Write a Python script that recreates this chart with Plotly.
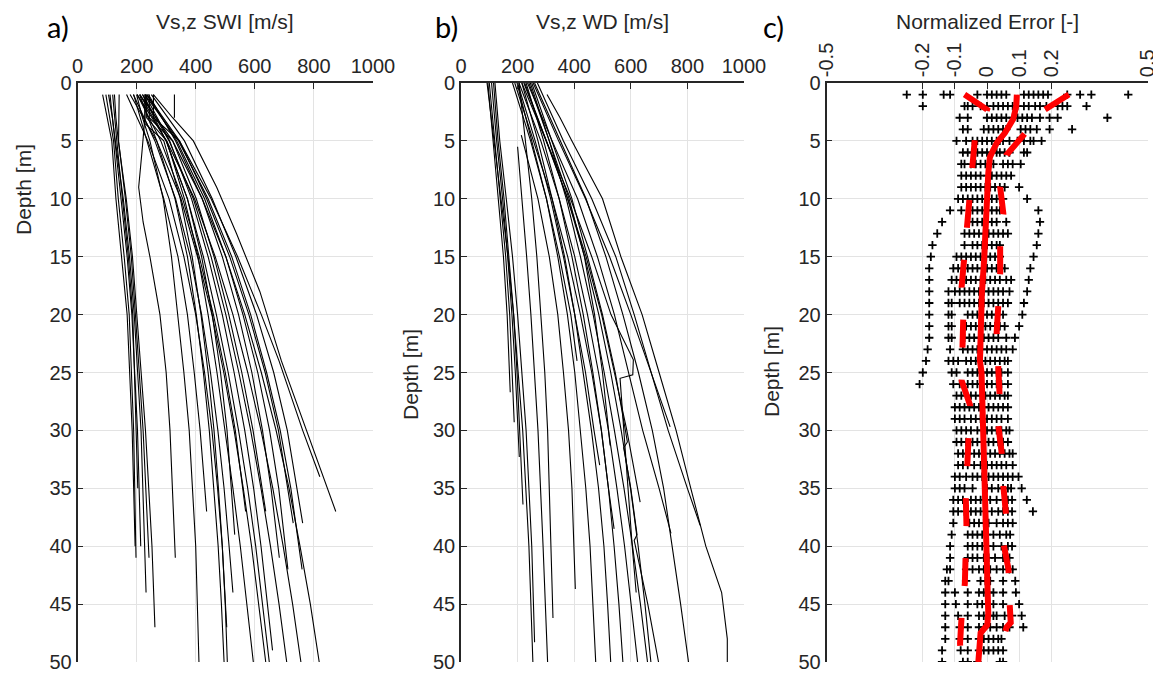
import plotly.graph_objects as go

W, H = 1161, 674
OFF = 8  # browser default body margin
FW, FH = W - OFF, H - OFF

# ---------------- Panel a: Vs,z SWI profiles (depth [m], velocity [m/s]) ----------------
swi_profiles = [
    ([1, 3, 5, 10, 15, 20, 30, 40], [85, 100, 116, 130, 150, 168, 185, 195]),
    ([1, 3, 5, 10, 15, 20, 30, 41], [96, 108, 122, 138, 158, 175, 190, 198]),
    ([1, 3, 5, 10, 15, 20, 30, 40], [110, 118, 128, 148, 168, 184, 203, 214]),
    ([1, 3, 5, 10, 15, 20, 30, 35], [119, 125, 133, 152, 172, 187, 200, 204]),
    ([1, 3, 5, 10, 15, 20, 30, 41], [141, 141, 139, 162, 182, 196, 222, 242]),
    ([1, 3, 5, 10, 15, 20, 30, 44], [105, 118, 128, 155, 176, 192, 215, 232]),
    ([1, 3, 5, 10, 15, 20, 30, 40, 47], [125, 130, 138, 165, 186, 200, 230, 252, 262]),
    ([1, 3, 6, 9, 12, 15, 20, 25, 30, 41], [230, 228, 218, 207, 222, 245, 279, 300, 313, 331]),
    ([1, 3, 5, 10, 15, 20, 25, 30, 40, 50], [200, 220, 245, 290, 318, 340, 360, 378, 400, 411]),
    ([1, 3, 5, 10, 15, 20, 25, 30, 37], [190, 212, 235, 292, 340, 372, 395, 415, 437]),
    ([1, 5, 10, 15, 20, 25, 30, 35, 40, 45, 50], [210, 268, 330, 372, 402, 426, 446, 462, 476, 487, 496]),
    ([1, 3.5, 5, 10, 15, 20, 25, 30, 35, 40, 45, 50], [228, 228, 292, 348, 388, 418, 442, 462, 477, 490, 500, 507]),
    ([1, 5, 10, 15, 20, 25, 30, 35, 40, 47], [166, 238, 310, 360, 400, 430, 455, 474, 490, 505]),
    ([1, 5, 10, 15, 20, 25, 30, 35, 40, 44], [189, 262, 332, 382, 420, 450, 475, 496, 513, 526]),
    ([1, 5, 10, 15, 20, 25, 30, 35, 39], [220, 300, 372, 420, 456, 484, 506, 521, 532]),
    ([1, 5, 10, 15, 20, 25, 30, 37], [202, 282, 356, 412, 460, 500, 534, 569]),
    ([1, 3, 5, 10, 15, 20, 25, 30, 35, 40, 45, 50], [234, 234, 302, 362, 408, 442, 472, 500, 526, 551, 574, 595]),
    ([1, 3, 5, 10, 15, 20, 25, 30, 37], [243, 243, 322, 402, 462, 512, 556, 594, 637]),
    ([1, 5, 10, 15, 20, 25, 30, 35, 40, 45, 50], [178, 268, 350, 406, 455, 495, 530, 561, 589, 614, 637]),
    ([1, 5, 10, 15, 20, 25, 30, 35, 40, 45, 50], [211, 300, 372, 426, 470, 510, 545, 576, 603, 627, 649]),
    ([1, 5, 10, 15, 20, 25, 30, 35, 40, 49], [228, 312, 386, 442, 490, 530, 566, 596, 621, 660]),
    ([1, 5, 10, 15, 20, 25, 30, 35, 41], [240, 332, 422, 490, 545, 590, 626, 655, 683]),
    ([1, 5, 10, 15, 20, 25, 30, 35, 40, 45, 50], [220, 310, 392, 452, 502, 546, 586, 621, 653, 682, 708]),
    ([1, 5, 10, 15, 20, 25, 30, 35, 42], [234, 336, 430, 502, 560, 610, 650, 681, 712]),
    ([1, 3, 5, 10, 15, 20, 25, 30, 38], [257, 257, 345, 437, 515, 580, 635, 680, 730]),
    ([1, 5, 10, 15, 20, 25, 30, 35, 40, 45, 50], [202, 302, 396, 466, 526, 576, 621, 661, 696, 728, 756]),
    ([1, 5, 10, 15, 20, 25, 30, 35, 42], [228, 342, 442, 522, 586, 640, 686, 722, 760]),
    ([1, 5, 10, 15, 20, 25, 30, 38], [250, 362, 456, 536, 606, 664, 710, 762]),
    ([1, 5, 10, 15, 20, 25, 30, 35, 40, 45, 50], [211, 322, 422, 502, 566, 622, 672, 716, 753, 788, 818]),
    ([1, 5, 10, 15, 20, 24, 30, 34], [235, 345, 452, 542, 622, 682, 762, 820]),
    ([1, 3, 5, 9, 13, 18, 24, 30, 37], [257, 322, 392, 471, 538, 617, 690, 775, 874]),
    ([1, 3], [328, 328]),
]

# ---------------- Panel b: Vs,z WD profiles ----------------
wd_profiles = [
    ([0, 5, 10, 15, 20, 26.7], [95, 114, 133, 150, 163, 174]),
    ([0, 5, 10, 15, 20, 25, 29.3], [100, 120, 140, 158, 172, 182, 188]),
    ([0, 5, 10, 15, 20, 25, 32.3], [108, 126, 147, 165, 180, 192, 206]),
    ([0, 5, 10, 15, 20, 25, 30, 36.4], [115, 131, 152, 170, 186, 198, 208, 219]),
    ([0, 5, 10, 15, 20, 30, 40, 50], [92, 117, 143, 166, 186, 218, 240, 254]),
    ([0, 5, 10, 15, 20, 30, 40, 48.3], [120, 137, 160, 182, 200, 230, 250, 260]),
    ([5.5, 10, 15, 20, 25, 30, 40, 50], [200, 216, 232, 247, 260, 272, 290, 306]),
    ([0, 5, 10, 15, 20, 25, 30, 40, 46.2], [205, 228, 250, 268, 283, 296, 306, 318, 325]),
    ([4.5, 10, 15, 20, 25, 30, 35, 43.7], [213, 272, 312, 342, 362, 380, 392, 404]),
    ([0, 5, 10, 15, 20, 25, 30, 35, 40, 45, 50], [198, 250, 302, 342, 376, 402, 422, 441, 456, 467, 476]),
    ([0, 5, 10, 15, 20, 25, 30, 35, 40, 45, 50], [215, 272, 322, 366, 402, 432, 461, 486, 505, 518, 529]),
    ([0, 5, 10, 15, 20, 25, 30, 35, 40, 45, 50], [230, 292, 347, 392, 432, 466, 496, 521, 541, 558, 572]),
    ([0, 5, 10, 15, 20, 25, 30, 35, 40, 45, 50], [205, 282, 347, 402, 447, 486, 521, 551, 578, 602, 624]),
    ([0, 5, 10, 15, 20, 25, 30, 35, 40, 45, 50], [240, 312, 372, 422, 467, 506, 542, 576, 606, 634, 659]),
    ([0, 5, 10, 15, 20, 25, 30, 35, 40, 45, 50], [222, 302, 377, 437, 487, 529, 566, 599, 626, 650, 671]),
    ([0, 5, 10, 15, 20, 25, 30, 31, 31.5, 35, 39, 39.5, 45, 50],
     [250, 322, 392, 447, 500, 545, 582, 588, 575, 600, 622, 612, 660, 698]),
    ([0, 5, 10, 15, 20, 25, 30, 35, 40, 45, 50], [260, 352, 442, 512, 572, 627, 676, 716, 747, 776, 804]),
    ([1, 3, 5, 10, 15, 20, 25, 30, 35, 40, 44, 48, 50], [304, 350, 392, 500, 565, 640, 700, 760, 812, 865, 921, 941, 941]),
    ([0, 5, 10, 15, 20, 25, 30, 35, 38.2], [270, 362, 462, 547, 612, 672, 732, 800, 845]),
    ([0, 5, 10, 15, 20, 25, 29.7], [255, 345, 440, 525, 600, 672, 739]),
    ([0, 5, 10, 15, 20, 25, 30, 35, 38.9], [235, 322, 412, 482, 542, 592, 642, 700, 742]),
    ([0, 5, 10, 15, 20, 25, 30, 36.2], [225, 302, 377, 442, 497, 542, 586, 633]),
    ([0, 5, 10, 15, 20, 25, 30, 35, 38.5], [190, 256, 322, 377, 422, 462, 496, 521, 541]),
    ([0, 5, 10, 15, 20, 25, 31.3], [245, 312, 382, 436, 472, 500, 527]),
    ([0, 5, 10, 15, 20, 23.9, 25.2, 25.5, 30, 35, 40, 44], [215, 300, 387, 462, 530, 609, 607, 562, 575, 590, 605, 619]),
    ([0, 5, 10, 15, 20, 25, 30, 33], [200, 262, 317, 362, 402, 440, 470, 490]),
    ([0, 5, 10, 15, 20, 24], [182, 246, 302, 348, 388, 410]),
]

# ---------------- Panel c: normalized error per depth ----------------
err_depths = [1, 2, 3, 4, 5, 6, 7, 8, 9, 10, 11, 12, 13, 14, 15, 16, 17, 18, 19, 20, 21, 22, 23, 24, 25,
              26, 27, 28, 29, 30, 31, 32, 33, 34, 35, 36, 37, 38, 39, 40, 41, 42, 43, 44, 45, 46, 47, 48, 49, 50]
err_rows = [
    [-0.25, -0.2, -0.135, -0.115, -0.03, 0.0, 0.015, 0.03, 0.045, 0.06, 0.115, 0.13, 0.145, 0.16, 0.175, 0.19, 0.25, 0.29, 0.325, 0.44],
    [-0.2, -0.07, -0.06, -0.045, -0.02, 0.0, 0.02, 0.035, 0.05, 0.065, 0.08, 0.095, 0.115, 0.13, 0.15, 0.165, 0.185, 0.22, 0.235, 0.25, 0.31],
    [-0.085, -0.06, 0.0, 0.015, 0.03, 0.045, 0.06, 0.08, 0.095, 0.11, 0.125, 0.14, 0.165, 0.195, 0.22, 0.375],
    [-0.075, -0.06, -0.01, 0.005, 0.02, 0.035, 0.05, 0.06, 0.105, 0.12, 0.135, 0.155, 0.195, 0.265],
    [-0.095, -0.065, -0.045, -0.03, -0.015, 0.0, 0.015, 0.03, 0.04, 0.05, 0.07, 0.095, 0.115, 0.135, 0.145, 0.17],
    [-0.075, -0.06, -0.045, -0.03, -0.015, 0.0, 0.015, 0.03, 0.04, 0.055, 0.07, 0.115, 0.125],
    [-0.08, -0.07, -0.05, -0.035, -0.02, -0.005, 0.01, 0.02, 0.05, 0.065, 0.08, 0.105],
    [-0.08, -0.065, -0.05, -0.035, -0.02, 0.0, 0.015, 0.03, 0.045, 0.06, 0.075],
    [-0.08, -0.065, -0.05, -0.035, -0.02, -0.005, 0.01, 0.025, 0.04, 0.055, 0.1],
    [-0.09, -0.075, -0.06, -0.045, -0.03, -0.015, 0.0, 0.015, 0.03, 0.05, 0.125],
    [-0.115, -0.08, -0.045, -0.03, -0.015, 0.0, 0.015, 0.03, 0.04, 0.16],
    [-0.14, -0.045, -0.03, -0.015, 0.0, 0.015, 0.03, 0.06, 0.165],
    [-0.155, -0.07, -0.055, -0.04, -0.025, -0.01, 0.005, 0.02, 0.035, 0.05, 0.065, 0.16],
    [-0.17, -0.07, -0.045, -0.03, -0.015, 0.0, 0.015, 0.03, 0.04, 0.155],
    [-0.175, -0.095, -0.08, -0.065, -0.05, -0.035, -0.02, -0.005, 0.01, 0.025, 0.04, 0.145],
    [-0.18, -0.105, -0.09, -0.075, -0.06, -0.045, -0.03, -0.015, 0.0, 0.015, 0.03, 0.045, 0.055, 0.135],
    [-0.18, -0.11, -0.095, -0.08, -0.065, -0.05, -0.035, -0.02, -0.005, 0.01, 0.025, 0.04, 0.06, 0.075, 0.13],
    [-0.18, -0.12, -0.1, -0.085, -0.07, -0.055, -0.04, -0.025, -0.01, 0.005, 0.02, 0.035, 0.05, 0.07, 0.125],
    [-0.18, -0.12, -0.11, -0.085, -0.07, -0.055, -0.04, -0.025, -0.01, 0.005, 0.02, 0.035, 0.05, 0.065, 0.115],
    [-0.18, -0.12, -0.11, -0.06, -0.045, -0.03, -0.015, 0.0, 0.015, 0.03, 0.05, 0.11],
    [-0.18, -0.12, -0.11, -0.065, -0.05, -0.035, -0.02, -0.005, 0.01, 0.025, 0.04, 0.055, 0.1],
    [-0.18, -0.12, -0.11, -0.07, -0.055, -0.04, -0.025, -0.01, 0.005, 0.02, 0.035, 0.06, 0.087],
    [-0.185, -0.115, -0.075, -0.06, -0.045, -0.03, -0.015, 0.0, 0.015, 0.03, 0.045, 0.06, 0.08],
    [-0.19, -0.12, -0.105, -0.09, -0.065, -0.05, -0.035, -0.02, -0.005, 0.01, 0.025, 0.04, 0.055, 0.065],
    [-0.2, -0.11, -0.095, -0.06, -0.045, -0.03, -0.015, 0.0, 0.015, 0.03, 0.045, 0.065],
    [-0.21, -0.105, -0.085, -0.06, -0.045, -0.03, -0.015, 0.0, 0.015, 0.03, 0.045, 0.065],
    [-0.095, -0.08, -0.065, -0.05, -0.035, -0.02, -0.005, 0.01, 0.025, 0.04, 0.055, 0.065],
    [-0.1, -0.085, -0.07, -0.055, -0.04, -0.025, -0.01, 0.005, 0.02, 0.035, 0.05, 0.065],
    [-0.1, -0.085, -0.07, -0.05, -0.035, -0.02, 0.0, 0.015, 0.03, 0.045, 0.065],
    [-0.095, -0.08, -0.065, -0.05, -0.03, -0.015, 0.0, 0.015, 0.03, 0.045, 0.06, 0.07],
    [-0.095, -0.08, -0.065, -0.045, -0.03, -0.01, 0.005, 0.02, 0.035, 0.05, 0.065],
    [-0.09, -0.075, -0.06, -0.04, -0.025, -0.01, 0.01, 0.025, 0.04, 0.055, 0.07, 0.08],
    [-0.09, -0.075, -0.06, -0.04, -0.02, 0.0, 0.015, 0.03, 0.045, 0.06, 0.08],
    [-0.1, -0.085, -0.065, -0.045, -0.03, -0.015, 0.005, 0.02, 0.035, 0.05, 0.065, 0.08, 0.098],
    [-0.1, -0.085, -0.07, -0.045, 0.0, 0.015, 0.035, 0.05, 0.065, 0.075, 0.108],
    [-0.105, -0.09, -0.075, -0.05, -0.035, -0.02, 0.01, 0.03, 0.05, 0.065, 0.078, 0.124],
    [-0.105, -0.09, -0.07, -0.05, -0.035, -0.02, 0.015, 0.035, 0.05, 0.065, 0.078, 0.143],
    [-0.105, -0.055, -0.04, -0.025, -0.01, 0.005, 0.03, 0.05, 0.065, 0.08],
    [-0.11, -0.06, -0.045, -0.03, -0.015, 0.0, 0.02, 0.04, 0.06, 0.072],
    [-0.115, -0.06, -0.045, -0.03, -0.015, 0.0, 0.02, 0.045, 0.065, 0.078],
    [-0.115, -0.06, -0.045, -0.03, -0.01, 0.005, 0.025, 0.05, 0.07],
    [-0.125, -0.115, -0.065, -0.045, -0.025, -0.01, 0.01, 0.03, 0.05, 0.07, 0.08],
    [-0.13, -0.12, -0.065, -0.02, -0.005, 0.01, 0.05, 0.088],
    [-0.13, -0.1, -0.06, -0.025, -0.01, 0.005, 0.02, 0.05, 0.09],
    [-0.13, -0.097, -0.06, -0.03, -0.015, 0.0, 0.02, 0.05, 0.1],
    [-0.13, -0.09, -0.06, -0.025, -0.01, 0.005, 0.02, 0.03, 0.055, 0.078, 0.108],
    [-0.13, -0.085, -0.06, -0.025, -0.01, 0.01, 0.03, 0.05, 0.07, 0.113],
    [-0.13, -0.085, -0.06, -0.025, -0.01, 0.005, 0.02, 0.035, 0.045],
    [-0.14, -0.082, -0.06, -0.025, -0.01, 0.005, 0.02, 0.035, 0.05],
    [-0.14, -0.075, -0.06, -0.03, 0.04, 0.05],
]

mean_depths = [1, 2, 3.1, 4.3, 5.2, 6.4, 7.8, 10, 12.4, 15.3, 18.2, 21, 24, 25, 28, 31, 33.7, 36.6, 39.4, 42.3, 45.8, 46.8, 47.5, 50]
mean_values = [0.093, 0.091, 0.082, 0.056, 0.03, 0.009, 0.004, 0.001, -0.003, -0.009, -0.016, -0.02, -0.022, -0.017, -0.014, -0.009, -0.006, -0.003, 0.001, 0.004, 0.004, 0.001, -0.02, -0.027]

lower_depths = [1, 2.3, 4.9, 7.2, 10, 12.4, 15.3, 17.6, 20.3, 22.8, 25.7, 27.8, 30.5, 33, 35.9, 38.1, 40.9, 43.2, 46, 48.4, 50]
lower_values = [-0.07, 0.0, -0.038, -0.045, -0.053, -0.064, -0.069, -0.079, -0.074, -0.076, -0.079, -0.053, -0.058, -0.058, -0.066, -0.064, -0.069, -0.069, -0.079, -0.084, -0.08]

upper_depths = [1, 2.3, 4.5, 6.2, 9, 11.3, 14, 16.4, 19.3, 21.6, 24.5, 26.8, 29.5, 32, 34.8, 37.2, 39.7, 42, 44.7, 46.6, 47, 48, 50]
upper_values = [0.255, 0.18, 0.114, 0.061, 0.041, 0.051, 0.041, 0.041, 0.035, 0.03, 0.035, 0.039, 0.035, 0.046, 0.051, 0.059, 0.051, 0.067, 0.07, 0.074, 0.061, 0.05, 0.04]

depth_ticks = [0, 5, 10, 15, 20, 25, 30, 35, 40, 45, 50]
vel_ticks = [0, 200, 400, 600, 800, 1000]
err_ticks = [-0.5, -0.2, -0.1, 0, 0.1, 0.2, 0.5]
err_ticktext = ["-0.5", "-0.2", "-0.1", "0", "0.1", "0.2", "0.5"]


def PX(p):
    return (p - OFF) / FW


def PY(p):
    return 1 - (p - OFF) / FH


# ---------------- Figure ----------------
fig = go.Figure()

for depths, vels in swi_profiles:
    fig.add_trace(go.Scatter(x=vels, y=depths, mode="lines", xaxis="x", yaxis="y",
                             line=dict(color="black", width=1.1), showlegend=False, hoverinfo="skip"))

for depths, vels in wd_profiles:
    fig.add_trace(go.Scatter(x=vels, y=depths, mode="lines", xaxis="x2", yaxis="y2",
                             line=dict(color="black", width=1.1), showlegend=False, hoverinfo="skip"))

sx, sy = [], []
for d, row in zip(err_depths, err_rows):
    for v in row:
        sx.append(v)
        sy.append(d)
fig.add_trace(go.Scatter(x=sx, y=sy, mode="markers", xaxis="x3", yaxis="y3",
                         marker=dict(symbol="cross-thin", size=6, color="black",
                                     line=dict(color="black", width=1.8)),
                         showlegend=False, hoverinfo="skip"))
fig.add_trace(go.Scatter(x=lower_values, y=lower_depths, mode="lines", xaxis="x3", yaxis="y3",
                         line=dict(color="#ff0000", width=6, dash="28px,32px"), showlegend=False))
fig.add_trace(go.Scatter(x=upper_values, y=upper_depths, mode="lines", xaxis="x3", yaxis="y3",
                         line=dict(color="#ff0000", width=6, dash="28px,32px"), showlegend=False))
fig.add_trace(go.Scatter(x=mean_values, y=mean_depths, mode="lines", xaxis="x3", yaxis="y3",
                         line=dict(color="#ff0000", width=6), showlegend=False))

AX = "#262626"
GRID = "#e3e3e3"
TICKFONT = dict(family="Liberation Sans, Arial, sans-serif", size=20, color=AX)

ydom = [PY(662), PY(83)]


def xax(domain, rng, tickvals, ticktext=None, angle=0, anchor="y"):
    d = dict(domain=domain, range=rng, side="top", anchor=anchor, tickvals=tickvals,
             showgrid=True, gridcolor=GRID, gridwidth=1, zeroline=False, automargin=False,
             showline=True, linecolor=AX, linewidth=1.6, ticks="inside", ticklen=6,
             tickwidth=1.4, tickcolor=AX, tickfont=TICKFONT, tickangle=angle, fixedrange=True)
    if ticktext is not None:
        d["ticktext"] = ticktext
    return d


def yax(anchor):
    return dict(domain=ydom, range=[50, 0], anchor=anchor, tickvals=depth_ticks,
                showgrid=True, gridcolor=GRID, gridwidth=1, zeroline=False, automargin=False,
                showline=True, linecolor=AX, linewidth=1.6, ticks="inside", ticklen=6,
                tickwidth=1.4, tickcolor=AX, tickfont=TICKFONT, fixedrange=True)


fig.update_layout(
    width=FW, height=FH,
    margin=dict(l=0, r=0, t=0, b=0, autoexpand=False),
    paper_bgcolor="white", plot_bgcolor="white",
    xaxis=xax([PX(77.5), PX(373)], [0, 1000], vel_ticks, anchor="y"),
    yaxis=yax("x"),
    xaxis2=xax([PX(461), PX(744)], [0, 1000], vel_ticks, anchor="y2"),
    yaxis2=yax("x2"),
    xaxis3=xax([PX(826.5), PX(1147.5)], [-0.5, 0.5], err_ticks, err_ticktext, angle=-90, anchor="y3"),
    yaxis3=yax("x3"),
)

LBL = dict(family="Liberation Sans, Arial, sans-serif", size=21, color=AX)
PANEL = dict(family="Lato, Open Sans, sans-serif", size=29, color="black")
ann = [
    dict(text="a)", x=PX(46), y=PY(27), xanchor="left", yanchor="middle", font=PANEL),
    dict(text="b)", x=PX(434), y=PY(27), xanchor="left", yanchor="middle", font=PANEL),
    dict(text="c)", x=PX(762), y=PY(27), xanchor="left", yanchor="middle", font=PANEL),
    dict(text="Vs,z SWI [m/s]", x=PX(225), y=PY(22), xanchor="center", yanchor="middle", font=LBL),
    dict(text="Vs,z WD [m/s]", x=PX(602), y=PY(22), xanchor="center", yanchor="middle", font=LBL),
    dict(text="Normalized Error [-]", x=PX(987), y=PY(22), xanchor="center", yanchor="middle", font=LBL),
    dict(text="Depth [m]", x=PX(24), y=PY(190), xanchor="center", yanchor="middle", textangle=-90, font=LBL),
    dict(text="Depth [m]", x=PX(410), y=PY(375), xanchor="center", yanchor="middle", textangle=-90, font=LBL),
    dict(text="Depth [m]", x=PX(771), y=PY(372), xanchor="center", yanchor="middle", textangle=-90, font=LBL),
]
for a in ann:
    a.update(xref="paper", yref="paper", showarrow=False, borderpad=0)
fig.update_layout(annotations=ann)

fig.write_html("out.html")
